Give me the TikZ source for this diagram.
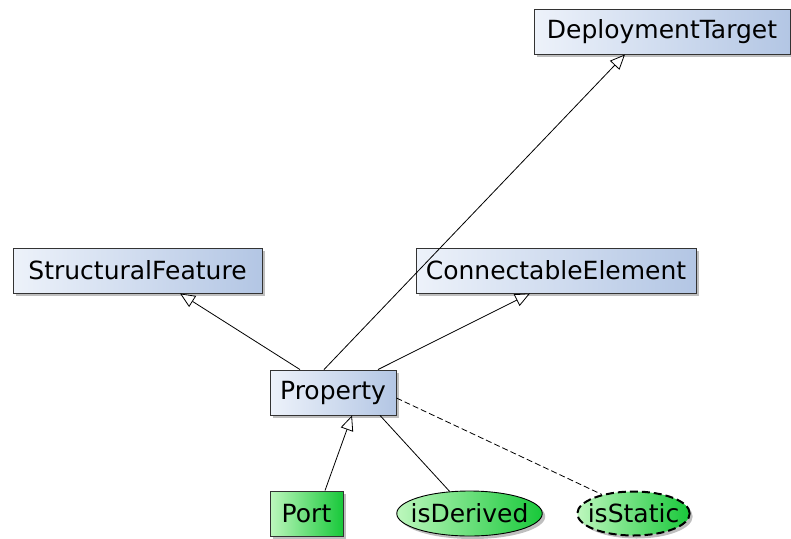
\documentclass[tikz,border=0pt]{standalone}
\usepackage{fontspec}
\setmainfont{DejaVu Sans}
\usepackage{xcolor}
\usepackage{tikz}
\usetikzlibrary{
    positioning,
    arrows.meta,
    shapes.geometric,
    shadows
}

\definecolor{clsleft}{HTML}{EDF2FA}
\definecolor{clsright}{HTML}{B3C6E4}
\definecolor{grnleft}{HTML}{BDF7BD}
\definecolor{grnright}{HTML}{18C83A}
\definecolor{edgegray}{HTML}{333333}

\begin{document}
\begin{tikzpicture}[
    x=1pt, y=-1pt,
    every node/.style={font=\fontsize{25}{30}\selectfont},
    cls/.style={rectangle, draw=edgegray, line width=0.9pt, left color=clsleft, right color=clsright, inner sep=0pt, minimum height=45pt, drop shadow={shadow xshift=3pt, shadow yshift=-3pt, fill=gray, opacity=0.5}},
    greenbox/.style={rectangle, draw=edgegray, line width=0.9pt, left color=grnleft, right color=grnright, inner sep=0pt, minimum height=45pt, drop shadow={shadow xshift=3pt, shadow yshift=-3pt, fill=gray, opacity=0.5}},
    greenoval/.style={ellipse, draw=black, line width=0.9pt, left color=grnleft, right color=grnright, inner ysep=0pt, inner xsep=-7.5pt, minimum height=45pt, drop shadow={shadow xshift=3pt, shadow yshift=-3pt, fill=gray, opacity=0.5}},
    inherit/.style={-{Triangle[open, length=15pt, width=13pt, fill=white]}, line width=0.8pt},
    link/.style={line width=0.8pt}
]
\useasboundingbox (0,0) rectangle (791,538);

\node[cls, minimum width=256pt] (target) at (662,31.5) {DeploymentTarget};
\node[cls, minimum width=249pt] (structural) at (137.5,270.5) {StructuralFeature};
\node[cls, minimum width=280pt] (connectable) at (556,270.5) {ConnectableElement};
\node[cls, minimum width=126pt] (property) at (333,392.5) {Property};

\node[greenbox, minimum width=73pt] (port) at (306.5,513.5) {Port};
\node[greenoval, minimum width=145pt] (derived) at (469.5,513.5) {isDerived};
\node[greenoval, minimum width=112pt, minimum height=44pt, inner xsep=-6pt, line width=2pt, dash pattern=on 8pt off 4pt] (static) at (633.5,513.5) {isStatic};

\draw[inherit] ([xshift=-33pt]property.north) -- ([xshift=42.5pt]structural.south);
\draw[inherit] ([xshift=-9pt]property.north) -- ([xshift=-37pt]target.south);
\draw[inherit] ([xshift=45pt]property.north) -- ([xshift=-26pt]connectable.south);
\draw[inherit] ([xshift=18.5pt]port.north) -- ([xshift=19pt]property.south);
\draw[link] ([xshift=47pt]property.south) -- (derived.132);
\draw[link, dash pattern=on 6pt off 3pt] ([yshift=-5.5pt]property.east) -- (static.149);

\end{tikzpicture}
\end{document}
